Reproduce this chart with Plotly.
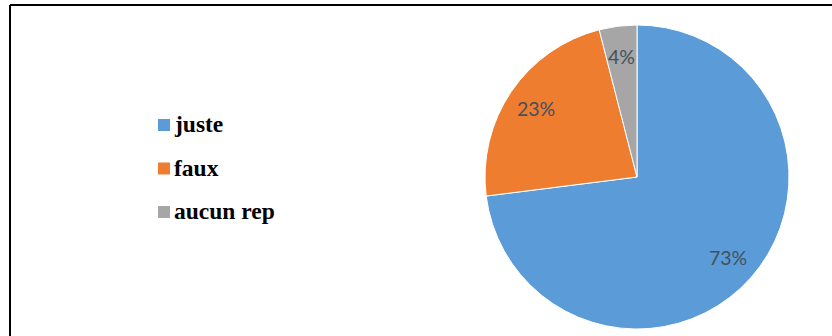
import math
import plotly.graph_objects as go

# Réponses au question : part de chaque type de réponse
categories = ["juste", "faux", "aucun rep"]
values = [73, 23, 4]
colors = ["#5A9BD8", "#EF7D30", "#A6A6A6"]

W, H = 832, 336
cx, cy, r = 637, 177, 152  # pie centre / radius in pixels

fig = go.Figure()
fig.add_trace(go.Pie(
    labels=categories,
    values=values,
    sort=False,
    direction="clockwise",
    rotation=0,
    marker=dict(colors=colors, line=dict(color="white", width=1)),
    textinfo="none",
    hoverinfo="label+percent",
    showlegend=False,
    domain=dict(x=[(cx - r) / W, (cx + r) / W], y=[1 - (cy + r) / H, 1 - (cy - r) / H]),
))

annotations = []
shapes = []

# percentage labels placed at each slice's mid-angle
total = sum(values)
acc = 0
for v in values:
    mid = (acc + v / 2) / total * 2 * math.pi
    acc += v
    f = 0.8
    px = cx + math.sin(mid) * r * f
    py = cy - math.cos(mid) * r * f
    annotations.append(dict(
        x=px / W, y=1 - py / H, xref="paper", yref="paper",
        text=f"{round(v / total * 100)}%", showarrow=False,
        font=dict(family="Lato, sans-serif", size=19.5, color="#44505F"),
        xanchor="center", yanchor="middle",
    ))

# legend drawn on the left
leg_x, leg_y0, leg_dy, sq = 158, 125, 43.5, 12
for i, (name, col) in enumerate(zip(categories, colors)):
    yc = leg_y0 + i * leg_dy
    shapes.append(dict(
        type="rect", xref="paper", yref="paper",
        x0=leg_x / W, x1=(leg_x + sq) / W,
        y0=1 - (yc + sq / 2) / H, y1=1 - (yc - sq / 2) / H,
        fillcolor=col, line=dict(width=0),
    ))
    annotations.append(dict(
        x=(leg_x + sq + 2) / W, y=1 - (yc - 1) / H, xref="paper", yref="paper",
        text=f"<b>{name}</b>", showarrow=False,
        font=dict(family="Liberation Serif, Times New Roman, serif", size=23.5, color="black"),
        xanchor="left", yanchor="middle",
    ))

# chart frame (top and left edges)
shapes.append(dict(type="line", xref="paper", yref="paper",
                   x0=10 / W, x1=1.0, y0=1 - 5 / H, y1=1 - 5 / H,
                   line=dict(color="black", width=2)))
shapes.append(dict(type="line", xref="paper", yref="paper",
                   x0=10 / W, x1=10 / W, y0=0, y1=1 - 5 / H,
                   line=dict(color="black", width=2)))

fig.update_layout(
    width=W, height=H,
    margin=dict(l=0, r=0, t=0, b=0),
    paper_bgcolor="white", plot_bgcolor="white",
    annotations=annotations,
    shapes=shapes,
)

fig.write_html("out.html")
